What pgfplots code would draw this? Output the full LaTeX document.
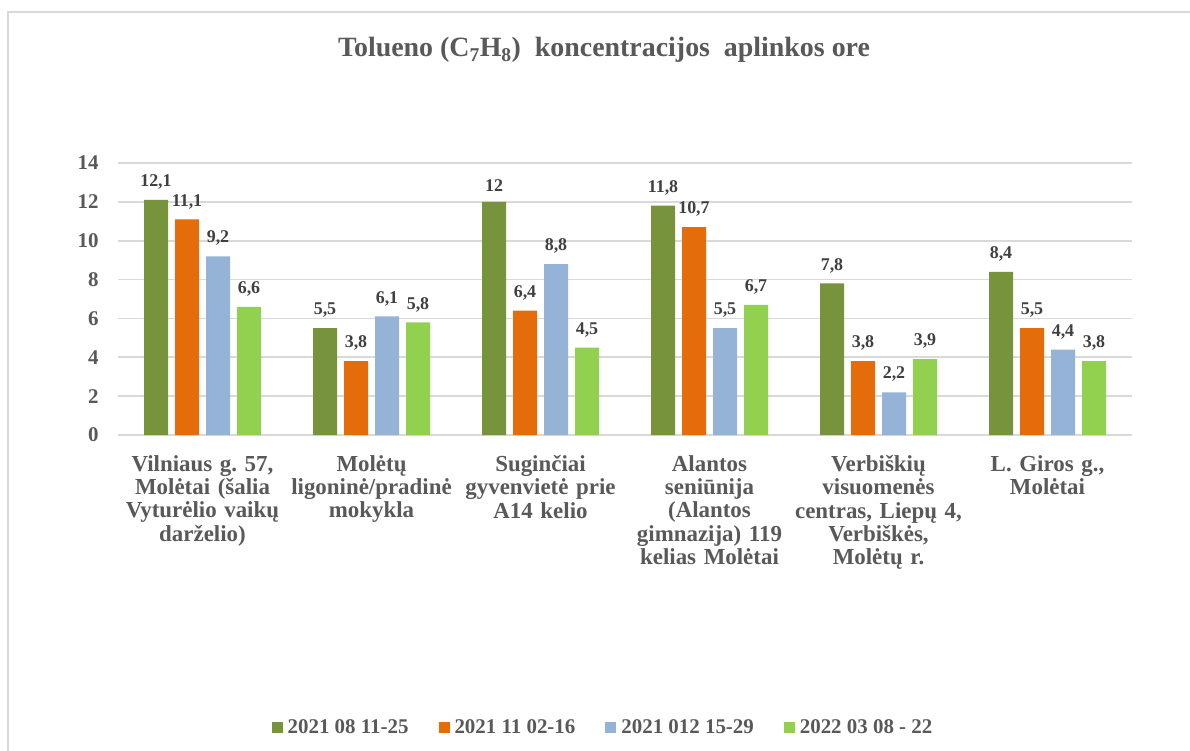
\documentclass[border=0pt]{standalone}
\usepackage{fontspec}
\setmainfont{Liberation Serif}
\usepackage{pgfplots}
\pgfplotsset{compat=1.18}
\definecolor{cA}{HTML}{77933C}
\definecolor{cB}{HTML}{E46C0A}
\definecolor{cC}{HTML}{95B3D7}
\definecolor{cD}{HTML}{92D050}
\definecolor{txt}{HTML}{595959}
\definecolor{lbl}{HTML}{404040}
\definecolor{grid}{HTML}{D9D9D9}
\frenchspacing
\begin{document}
\begin{tikzpicture}
\path[use as bounding box, fill=white] (0,0) rectangle (1190bp,751bp);
\draw[grid, line width=2bp] (8bp,0) -- (8bp,738.5bp) -- (1190bp,738.5bp);
\node[anchor=base, text=txt, font=\fontsize{28}{32}\selectfont\bfseries] at (604bp,694bp)
  {Tolueno (C\textsubscript{7}H\textsubscript{8})\ \ koncentracijos\ \ aplinkos ore};
\begin{axis}[
  at={(118bp,316bp)}, anchor=south west,
  scale only axis, width=1014bp, height=272bp,
  ybar=7bp, bar width=24bp,
  xmin=-0.5, xmax=5.5, ymin=0, ymax=14,
  ytick={0,2,...,14},
  xtick={0,1,2,3,4,5},
  xticklabels={
    {Vilniaus g. 57,\\ Molėtai (šalia\\ Vyturėlio vaikų\\ darželio)},
    {Molėtų\\ ligoninė/pradinė\\ mokykla},
    {Suginčiai\\ gyvenvietė prie\\ A14 kelio},
    {Alantos\\ seniūnija\\ (Alantos\\ gimnazija) 119\\ kelias Molėtai},
    {Verbiškių\\ visuomenės\\ centras, Liepų 4,\\ Verbiškės,\\ Molėtų r.},
    {L. Giros g.,\\ Molėtai}},
  xticklabel style={text width=180bp, align=center, anchor=north, yshift=-17bp,
    font=\fontsize{23}{23.3}\selectfont\bfseries, text=txt},
  yticklabel style={font=\fontsize{21}{25}\selectfont\bfseries, text=txt, xshift=-16bp},
  /pgf/number format/assume math mode=true,
  /pgf/number format/use comma,
  major tick length=0pt,
  axis x line*=bottom,
  axis y line*=left,
  y axis line style={draw=none},
  x axis line style={draw=grid, line width=2bp},
  ymajorgrids, grid style={draw=grid, line width=1.8bp},
  clip=false,
  nodes near coords,
  every node near coord/.append style={font=\fontsize{18}{21}\selectfont\bfseries, text=lbl, yshift=7bp,
    /pgf/number format/use comma},
  legend style={at={(603bp-118bp,24bp-316bp)}, anchor=center, draw=none, fill=none,
    legend columns=4, font=\fontsize{21}{24}\selectfont\bfseries, text=txt,
    /tikz/every even column/.style={column sep=28bp},
    /tikz/every odd column/.style={column sep=3bp}},
  legend image code/.code={\fill[#1] (0bp,-5.5bp) rectangle (11bp,5.5bp);},
]
\addplot[fill=cA, draw=none] coordinates {(0,12.1) (1,5.5) (2,12) (3,11.8) (4,7.8) (5,8.4)};
\addplot[fill=cB, draw=none] coordinates {(0,11.1) (1,3.8) (2,6.4) (3,10.7) (4,3.8) (5,5.5)};
\addplot[fill=cC, draw=none] coordinates {(0,9.2) (1,6.1) (2,8.8) (3,5.5) (4,2.2) (5,4.4)};
\addplot[fill=cD, draw=none] coordinates {(0,6.6) (1,5.8) (2,4.5) (3,6.7) (4,3.9) (5,3.8)};
\legend{2021 08 11-25, 2021 11 02-16, 2021 012 15-29, 2022 03 08 - 22}
\end{axis}
\end{tikzpicture}
\end{document}
